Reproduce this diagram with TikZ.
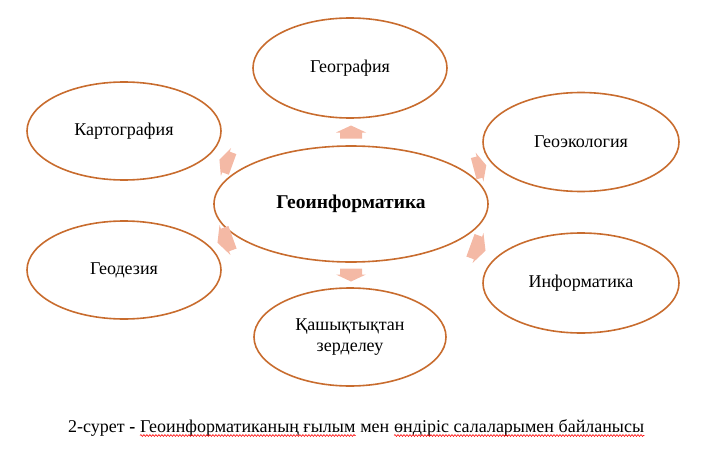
\documentclass[tikz,border=0pt]{standalone}
\usepackage{fontspec}
\setmainfont{Liberation Serif}
\usetikzlibrary{shapes.geometric,decorations.pathmorphing}
\definecolor{ring}{HTML}{C86C2E}
\definecolor{blk}{HTML}{F4B9A5}
% block arrow: x, y, angle, length, half head width, half body width, head length
\newcommand\blockarrow[7]{%
  \begin{scope}[shift={(#1,#2)}, rotate=#3]
    \fill[blk] (-#4/2,-#6) -- (#4/2-#7,-#6) -- (#4/2-#7,-#5) -- (#4/2,0)
      -- (#4/2-#7,#5) -- (#4/2-#7,#6) -- (-#4/2,#6) -- cycle;
  \end{scope}}
\begin{document}
\begin{tikzpicture}[x=1pt,y=-1pt,
  bubble/.style={ellipse, draw=ring, line width=1.6pt, inner sep=0pt, align=center,
    font=\fontsize{18}{21}\selectfont},
  capt/.style={font=\fontsize{18}{21}\selectfont, inner sep=0pt, anchor=base west},
  squig/.style={red, line width=0.6pt, decorate,
    decoration={snake, amplitude=0.9pt, segment length=3pt}}]
\useasboundingbox (0,0) rectangle (710,452);
\node[bubble, minimum width=274pt, minimum height=116pt,
  font=\fontsize{19.5}{22}\selectfont\bfseries] (c) at (351,204) {Геоинформатика};
\node[bubble, minimum width=194pt, minimum height=100pt] (geog) at (350,68) {География};
\node[bubble, minimum width=194pt, minimum height=98pt] (cart) at (124,131) {Картография};
\node[bubble, minimum width=196pt, minimum height=99pt] (eco) at (581,142) {Геоэкология};
\node[bubble, minimum width=194pt, minimum height=98pt] (geod) at (124,270) {Геодезия};
\node[bubble, minimum width=196pt, minimum height=100pt] (inf) at (581,283) {Информатика};
\node[bubble, minimum width=192pt, minimum height=98pt] (rs) at (350,337) {Қашықтықтан\\зерделеу};
\blockarrow{351}{132}{90}{13}{15}{11}{7}
\blockarrow{351}{275}{-90}{13}{15}{11}{7}
\blockarrow{226}{162}{160}{14}{15}{11}{7}
\blockarrow{225}{240}{200}{16}{16}{12}{8}
\blockarrow{480}{167}{15}{13}{15}{11}{7}
\blockarrow{478}{248}{-20}{16}{16}{12}{8}
\node[capt] (p1) at (68,432) {2-сурет \textbf{-}};
\node[capt] (p2) at ([xshift=4.5pt]p1.base east) {Геоинформатиканың ғылым};
\node[capt] (p3) at ([xshift=4.5pt]p2.base east) {мен};
\node[capt] (p4) at ([xshift=4.5pt]p3.base east) {өндіріс салаларымен байланысы};
\draw[squig] ([yshift=-3.5pt]p2.base west) -- ([yshift=-3.5pt]p2.base east);
\draw[squig] ([yshift=-3.5pt]p4.base west) -- ([yshift=-3.5pt]p4.base east);
\end{tikzpicture}
\end{document}
